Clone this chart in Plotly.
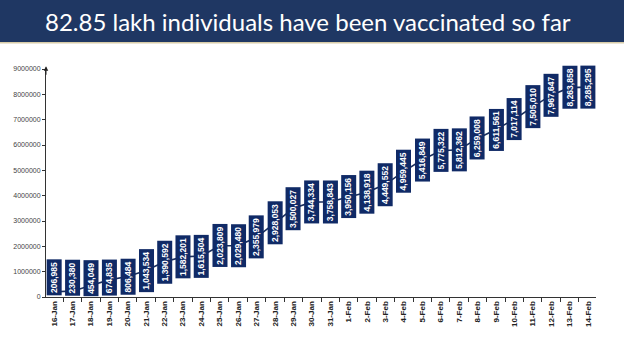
import plotly.graph_objects as go

# ---------------- data ----------------
dates = ["16-Jan", "17-Jan", "18-Jan", "19-Jan", "20-Jan", "21-Jan", "22-Jan", "23-Jan",
         "24-Jan", "25-Jan", "26-Jan", "27-Jan", "28-Jan", "29-Jan", "30-Jan", "31-Jan",
         "1-Feb", "2-Feb", "3-Feb", "4-Feb", "5-Feb", "6-Feb", "7-Feb", "8-Feb",
         "9-Feb", "10-Feb", "11-Feb", "12-Feb", "13-Feb", "14-Feb"]
values = [206985, 230380, 454049, 674835, 806484, 1043534, 1390592, 1582201,
          1615504, 2023809, 2029480, 2355979, 2928053, 3500027, 3744334, 3758843,
          3950156, 4138918, 4449552, 4959445, 5416849, 5775322, 5812362, 6259008,
          6611561, 7017114, 7505010, 7967647, 8263858, 8285295]
y_ticks = [0, 1000000, 2000000, 3000000, 4000000, 5000000, 6000000, 7000000, 8000000, 9000000]
title_text = "82.85 lakh individuals have been vaccinated so far"

# ---------------- layout constants ----------------
W, H = 624, 351
M_L, M_R, M_T, M_B = 46, 28, 69, 54
PLOT_W = W - M_L - M_R
PLOT_H = H - M_T - M_B
Y_MAX = 9000000
BANNER_H = 42

NAVY_BANNER = "#1f3763"
NAVY_BOX = "#102a66"
LINE_COL = "#1a2e5c"

def py(px):  # pixel row -> paper y
    return (H - M_B - px) / PLOT_H

def px_x(px):  # pixel column -> paper x
    return (px - M_L) / PLOT_W

fig = go.Figure()
fig.add_trace(go.Scatter(x=dates, y=values, mode="lines",
                         line=dict(color=LINE_COL, width=1.6),
                         hoverinfo="skip", showlegend=False))

FONT_SZ = 8.5
PAD = 1.8
annotations = []
for d, v in zip(dates, values):
    lab = f"{v:,}"
    ndig = sum(c.isdigit() for c in lab)
    ncom = lab.count(",")
    half = (ndig * 4.73 + ncom * 2.36) / 2 + PAD + 1
    point_px = v / Y_MAX * PLOT_H
    shift = max(0.0, half + 1 - point_px)
    annotations.append(dict(
        x=d, y=v, xref="x", yref="y", text=f"<b>{lab}</b>", textangle=-90,
        showarrow=False, bgcolor=NAVY_BOX, borderpad=PAD, yshift=shift,
        font=dict(family="Liberation Sans", size=FONT_SZ, color="white")))

# y-axis arrow head
annotations.append(dict(x=0, y=1.012, xref="paper", yref="paper", text="",
                        showarrow=True, arrowhead=2, arrowsize=0.9, arrowwidth=1,
                        arrowcolor="#222", ax=0, ay=10))
# title
annotations.append(dict(x=px_x(W / 2 - 4), y=py(BANNER_H / 2), xref="paper", yref="paper",
                        text=title_text, showarrow=False, xanchor="center", yanchor="middle",
                        font=dict(family="Lato", size=24, color="white")))

shapes = [
    dict(type="rect", xref="paper", yref="paper", x0=px_x(0), x1=px_x(W),
         y0=py(BANNER_H), y1=py(0), fillcolor=NAVY_BANNER, line=dict(width=0), layer="above"),
    dict(type="line", xref="paper", yref="paper", x0=px_x(0), x1=px_x(W),
         y0=py(BANNER_H + 0.8), y1=py(BANNER_H + 0.8), line=dict(color="#d8cca8", width=1.5)),
]

fig.update_layout(
    width=W, height=H, margin=dict(l=M_L, r=M_R, t=M_T, b=M_B, pad=0),
    paper_bgcolor="white", plot_bgcolor="white",
    showlegend=False, annotations=annotations, shapes=shapes,
    xaxis=dict(type="category", tickson="boundaries", ticks="outside", ticklen=4,
               tickcolor="#333", showline=True, linecolor="#333", linewidth=1,
               showgrid=False, tickangle=-90,
               tickprefix="<b>", ticksuffix="</b>",
               tickfont=dict(family="Liberation Sans", size=8, color="#222")),
    yaxis=dict(range=[0, Y_MAX], tickvals=y_ticks, ticktext=[str(t) for t in y_ticks],
               ticks="outside", ticklen=3, tickcolor="#333", showline=True,
               linecolor="#333", linewidth=1, showgrid=False, zeroline=False,
               tickfont=dict(family="Liberation Sans", size=7, color="#444")),
)

fig.write_html("out.html")
